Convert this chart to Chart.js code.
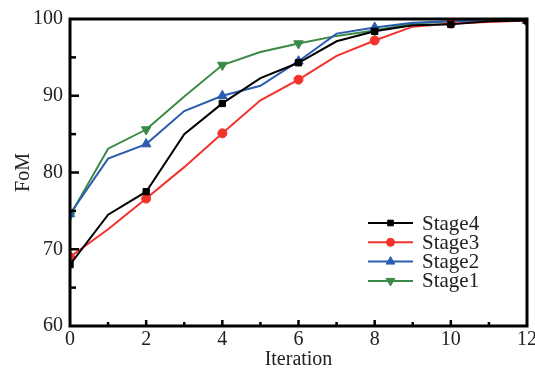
<!DOCTYPE html>
<html>
<head>
<meta charset="utf-8">
<script src="https://cdn.jsdelivr.net/npm/chart.js@4/dist/chart.umd.min.js"></script>
<style>
html,body{margin:0;padding:0;background:#fff;overflow:hidden;width:535px;height:374px;}
#wrap{width:539px;height:374px;}
</style>
</head>
<body>
<div id="wrap"><canvas id="c" width="539" height="374"></canvas></div>
<script>
const iterations = [0,1,2,3,4,5,6,7,8,9,10,11,12];
const stage4 = [68.0,74.5,77.5,85.0,89.0,92.3,94.3,97.1,98.4,99.2,99.3,99.7,99.8];
const stage3 = [69.0,72.6,76.6,80.7,85.1,89.4,92.1,95.2,97.2,99.0,99.4,99.6,99.8];
const stage2 = [74.6,81.8,83.7,88.0,90.0,91.3,94.5,98.1,98.9,99.5,99.7,99.8,99.8];
const stage1 = [74.4,83.1,85.6,89.9,94.0,95.7,96.8,97.8,98.5,99.4,99.7,99.8,99.8];
const seriesNames = ["Stage4","Stage3","Stage2","Stage1"];
const xTicks = [0,2,4,6,8,10,12];
const yTicks = [60,70,80,90,100];

const FONT = '"Liberation Serif", "Times New Roman", serif';

function pts(arr){ return iterations.map((x,i)=>({x:x,y:arr[i]})); }
function radii(r){ return iterations.map(x => x % 2 === 0 ? r : 0); }

const defs = [
  {data:stage4,color:'#000000',style:'rect',r:4.5,rot:0},
  {data:stage3,color:'#f2332b',style:'circle',r:4.5,rot:0},
  {data:stage2,color:'#2c5cb0',style:'triangle',r:5.5,rot:0},
  {data:stage1,color:'#3a8a45',style:'triangle',r:5.5,rot:180}
];

const datasets = defs.map((d,i)=>({
  label: seriesNames[i],
  data: pts(d.data),
  borderColor: d.color,
  backgroundColor: d.color,
  borderWidth: 2,
  pointStyle: d.style,
  pointRotation: d.rot,
  pointRadius: radii(d.r),
  pointHoverRadius: radii(d.r),
  pointBorderWidth: 1,
  tension: 0
}));

const framePlugin = {
  id:'frame',
  afterDraw(chart){
    const ctx = chart.ctx, a = chart.chartArea;
    const xs = chart.scales.x, ys = chart.scales.y;
    ctx.save();
    ctx.strokeStyle = '#000';
    ctx.lineWidth = 2.5;
    for (let v = 1; v < 12; v++){
      const px = xs.getPixelForValue(v);
      const len = v % 2 === 0 ? 6 : 4;
      ctx.beginPath(); ctx.moveTo(px, a.bottom); ctx.lineTo(px, a.bottom - len); ctx.stroke();
    }
    for (let v = 65; v < 100; v += 5){
      const py = ys.getPixelForValue(v);
      const len = v % 10 === 0 ? 9 : 6;
      ctx.beginPath(); ctx.moveTo(a.left, py); ctx.lineTo(a.left + len, py); ctx.stroke();
    }
    ctx.lineWidth = 3;
    ctx.strokeRect(a.left, a.top, a.right - a.left, a.bottom - a.top);
    // legend
    const lx0 = 368, lx1 = 413, tx = 422, y0 = 223, dy = 19.3;
    chart.data.datasets.forEach((ds,i)=>{
      const y = y0 + i*dy;
      ctx.strokeStyle = ds.borderColor;
      ctx.fillStyle = ds.borderColor;
      ctx.lineWidth = 2;
      ctx.beginPath(); ctx.moveTo(lx0,y); ctx.lineTo(lx1,y); ctx.stroke();
      ctx.lineWidth = 1;
      Chart.helpers.drawPoint(ctx, {pointStyle: ds.pointStyle, rotation: ds.pointRotation, radius: defs[i].r - 0.5, borderWidth:1}, (lx0+lx1)/2, y);
      ctx.font = '21px ' + FONT;
      ctx.textBaseline = 'middle';
      ctx.textAlign = 'left';
      ctx.fillStyle = '#222';
      ctx.fillText(ds.label, tx, y + 1);
    });
    ctx.restore();
  }
};

new Chart(document.getElementById('c'), {
  type:'line',
  data:{datasets},
  options:{
    responsive:false,
    animation:false,
    devicePixelRatio:1,
    layout:{padding:{top:5,right:0,left:0,bottom:2}},
    plugins:{legend:{display:false},tooltip:{enabled:false}},
    scales:{
      x:{
        type:'linear', min:0, max:12,
        afterBuildTicks(s){ s.ticks = xTicks.map(v=>({value:v})); },
        ticks:{color:'#222', font:{family:FONT,size:20}, padding:2, maxRotation:0, autoSkip:false},
        grid:{display:false, drawTicks:false},
        border:{display:false},
        title:{display:true,text:'Iteration',color:'#222',font:{family:FONT,size:20},padding:{top:-6,bottom:0}}
      },
      y:{
        min:60, max:100,
        afterBuildTicks(s){ s.ticks = yTicks.map(v=>({value:v})); },
        ticks:{color:'#222', font:{family:FONT,size:20}, padding:7},
        grid:{display:false, drawTicks:false},
        border:{display:false},
        title:{display:true,text:'FoM',color:'#222',font:{family:FONT,size:20},padding:{top:12,bottom:-10}}
      }
    }
  },
  plugins:[framePlugin]
});
</script>
</body>
</html>
